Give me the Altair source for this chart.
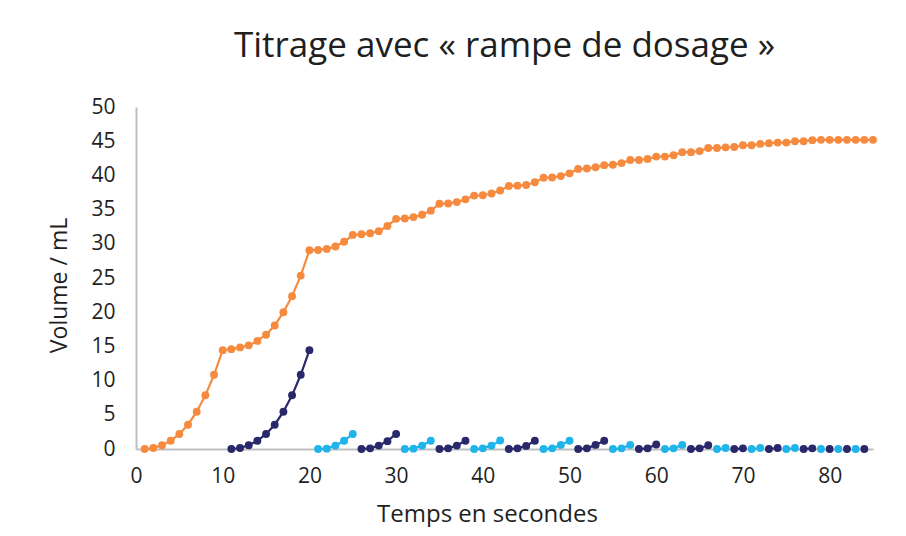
import altair as alt
import pandas as pd

title_text = "Titrage avec « rampe de dosage »"
x_title = "Temps en secondes"
y_title = "Volume / mL"

x_ticks = [0, 10, 20, 30, 40, 50, 60, 70, 80]
y_ticks = [0, 5, 10, 15, 20, 25, 30, 35, 40, 45, 50]

# Orange series: cumulative volume, one reading per second
orange_t = list(range(1, 86))
orange_v = [
    0, 0.15, 0.55, 1.2, 2.2, 3.55, 5.45, 7.85, 10.85, 14.45,
    14.6, 14.85, 15.15, 15.8, 16.7, 18.05, 20.0, 22.35, 25.35, 29.05,
    29.1, 29.25, 29.6, 30.3, 31.3, 31.4, 31.55, 31.85, 32.6, 33.65,
    33.7, 33.9, 34.25, 34.85, 35.85, 35.9, 36.1, 36.5, 37.05, 37.1,
    37.35, 37.8, 38.45, 38.5, 38.6, 39.0, 39.65, 39.7, 39.9, 40.3,
    40.95, 41.0, 41.2, 41.5, 41.55, 41.8, 42.25, 42.25, 42.4, 42.75,
    42.75, 42.95, 43.4, 43.4, 43.55, 44.0, 44.0, 44.1, 44.15, 44.4,
    44.4, 44.6, 44.7, 44.8, 44.8, 45.0, 45.0, 45.15, 45.2, 45.2,
    45.2, 45.2, 45.2, 45.2, 45.2,
]

# Ramp segments (alternating dark blue / light blue)
seg_start = [11, 21, 26, 31, 35, 39, 43, 47, 51, 55, 58, 61, 64,
             67, 69, 71, 73, 75, 77, 79, 80, 81, 82, 83, 84]
seg_group = ["navy", "light"] * 12 + ["navy"]
seg_values = [
    [0, 0.15, 0.55, 1.2, 2.2, 3.55, 5.45, 7.85, 10.85, 14.45],
    [0, 0.05, 0.5, 1.2, 2.2],
    [0, 0.1, 0.5, 1.15, 2.2],
    [0, 0.05, 0.5, 1.2],
    [0, 0.1, 0.5, 1.2],
    [0, 0.1, 0.5, 1.25],
    [0, 0.1, 0.45, 1.2],
    [0, 0.1, 0.6, 1.2],
    [0, 0.1, 0.6, 1.2],
    [0, 0.1, 0.6],
    [0, 0.1, 0.65],
    [0, 0.1, 0.6],
    [0, 0.1, 0.55],
    [0, 0.15],
    [0, 0.1],
    [0, 0.15],
    [0, 0.15],
    [0, 0.15],
    [0, 0.1],
    [0], [0], [0], [0], [0], [0],
]

rows = []
for t, v in zip(orange_t, orange_v):
    rows.append({"t": t, "v": v, "seg": "orange", "grp": "orange"})
for i, (s, g, vals) in enumerate(zip(seg_start, seg_group, seg_values)):
    for k, v in enumerate(vals):
        rows.append({"t": s + k, "v": v, "seg": f"s{i:02d}", "grp": g})
df = pd.DataFrame(rows)

FONT = "Open Sans"
TXT = "#1F1F1F"

color = alt.Color(
    "grp:N",
    scale=alt.Scale(domain=["orange", "navy", "light"],
                    range=["#F68B3F", "#29286A", "#1FB4EA"]),
    legend=None,
)

x = alt.X(
    "t:Q",
    scale=alt.Scale(domain=[0, 85], nice=False, zero=True),
    axis=alt.Axis(values=x_ticks, title=x_title, ticks=False, grid=False,
                  labelFlush=False, labelPadding=16, labelFontSize=21,
                  titleFontSize=24, titleX=351, titleY=72,
                  titleBaseline="alphabetic", titleFontWeight="normal"),
)
y = alt.Y(
    "v:Q",
    scale=alt.Scale(domain=[0, 50], nice=False),
    axis=alt.Axis(values=y_ticks, title=y_title, ticks=False, grid=False,
                  labelPadding=21, labelFontSize=21, titleFontSize=23,
                  titleX=-70, titleY=178, titleBaseline="alphabetic",
                  titleFontWeight="normal"),
)

base = alt.Chart(df).encode(x=x, y=y, color=color, detail="seg:N")
lines = base.mark_line(strokeWidth=2.2)
points = base.mark_circle(size=62, opacity=1)

chart = (
    alt.layer(lines, points)
    .properties(
        width=737,
        height=342,
        title=alt.TitleParams(text=title_text, fontSize=35, font=FONT,
                              fontWeight="normal", color=TXT,
                              anchor="middle", offset=32),
        padding={"left": 128, "top": 99, "right": 17, "bottom": 78},
        autosize=alt.AutoSizeParams(type="none"),
    )
    .configure_view(stroke=None)
    .configure_axis(domainColor="#BFBFBF", domainWidth=2, labelFont=FONT,
                    titleFont=FONT, labelColor=TXT, titleColor=TXT)
)

chart.save("out.html", embed_options={"renderer": "svg", "actions": False})
